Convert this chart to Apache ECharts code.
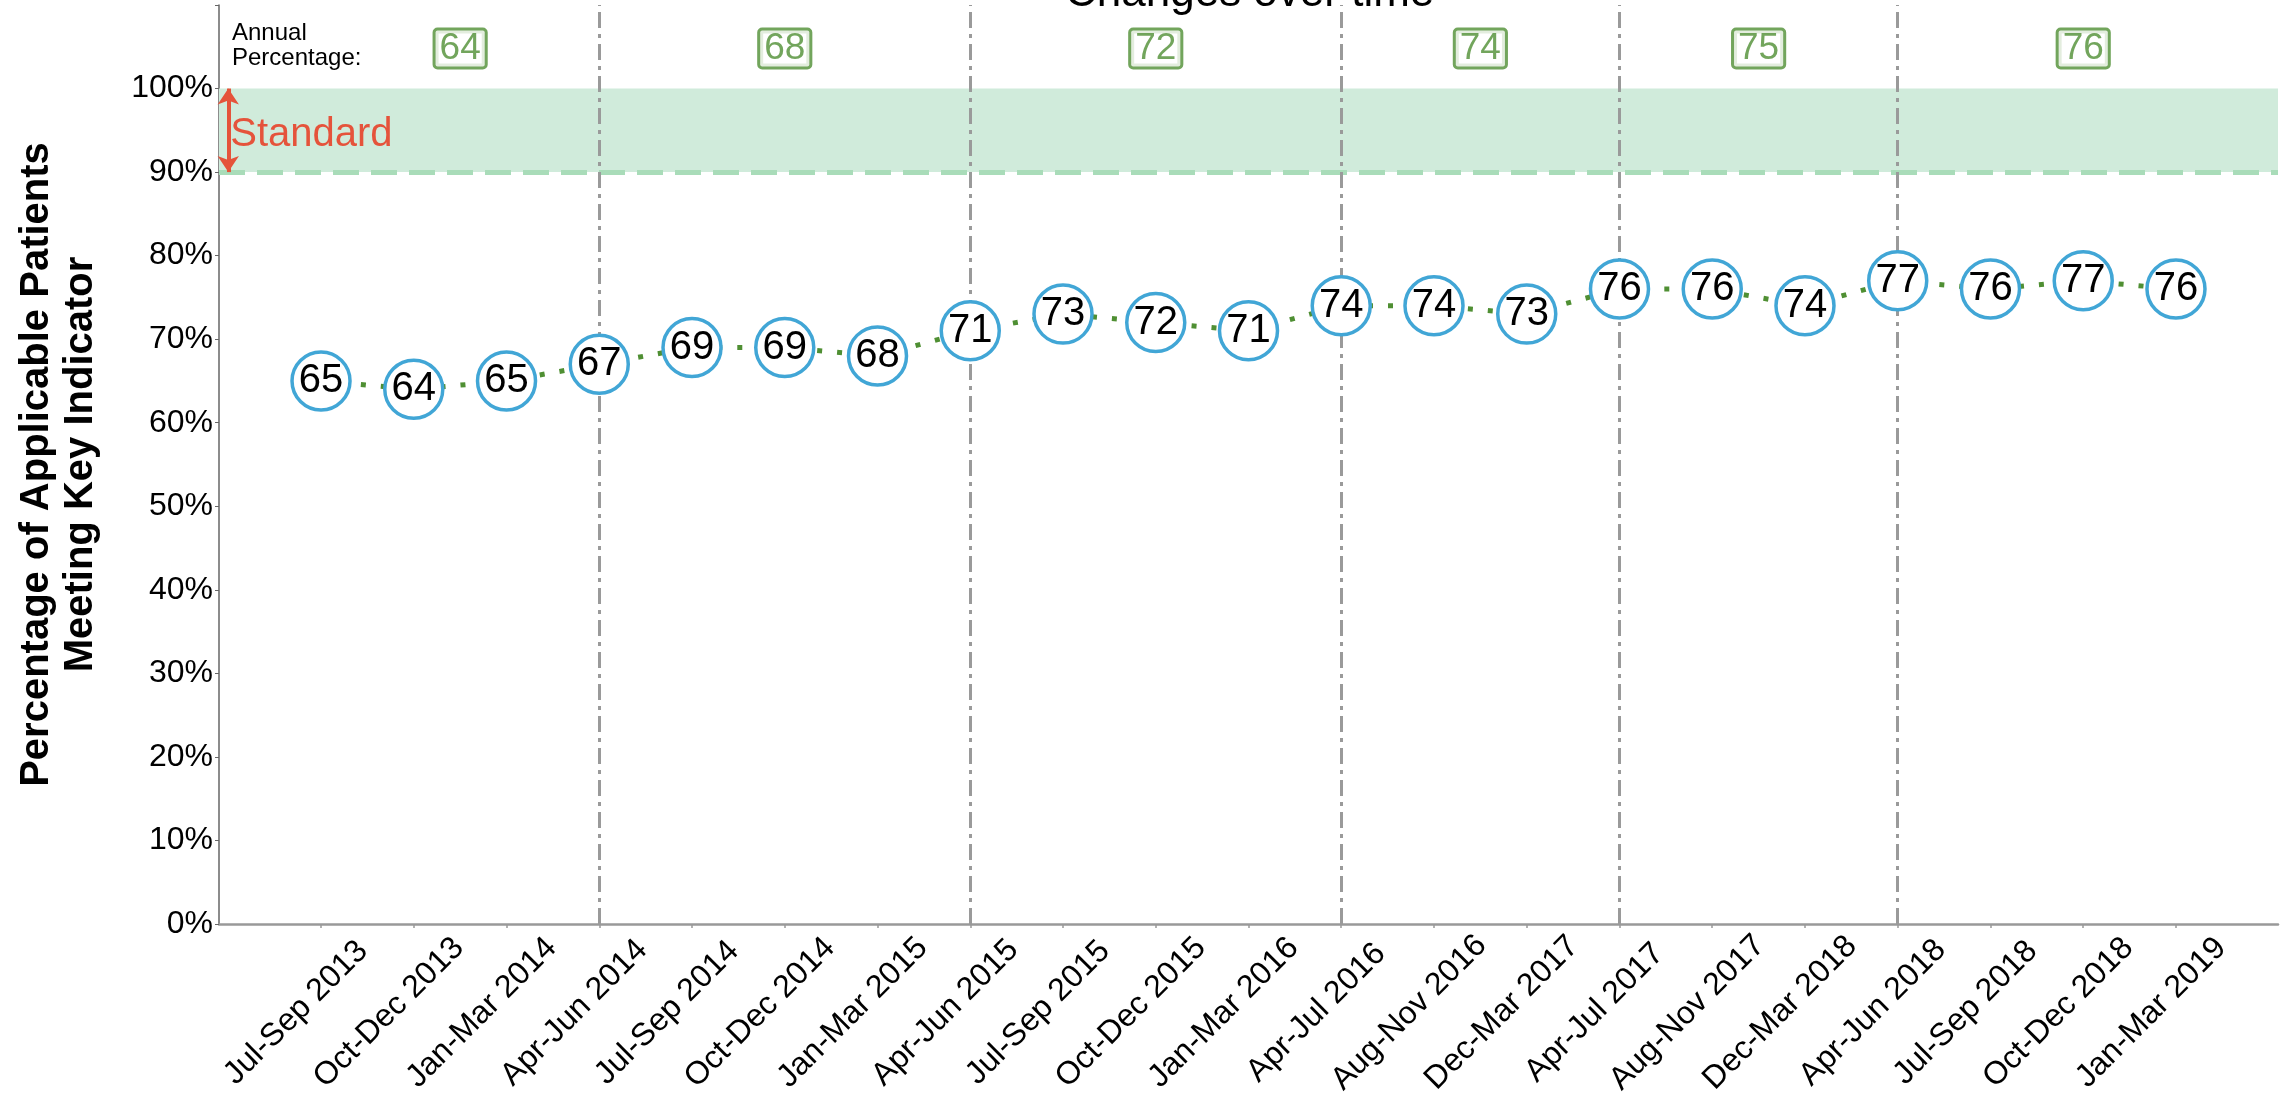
<!DOCTYPE html>
<html>
<head>
<meta charset="utf-8">
<script src="https://cdn.jsdelivr.net/npm/echarts@6/dist/echarts.min.js"></script>
<style>
html,body{margin:0;padding:0;background:#fff;}
#chart{width:2288px;height:1095px;}
</style>
</head>
<body>
<div id="chart"></div>
<script>
const categories = ['Jul-Sep 2013','Oct-Dec 2013','Jan-Mar 2014','Apr-Jun 2014','Jul-Sep 2014','Oct-Dec 2014','Jan-Mar 2015','Apr-Jun 2015','Jul-Sep 2015','Oct-Dec 2015','Jan-Mar 2016','Apr-Jul 2016','Aug-Nov 2016','Dec-Mar 2017','Apr-Jul 2017','Aug-Nov 2017','Dec-Mar 2018','Apr-Jun 2018','Jul-Sep 2018','Oct-Dec 2018','Jan-Mar 2019'];
const values = [65,64,65,67,69,69,68,71,73,72,71,74,74,73,76,76,74,77,76,77,76];
const dividers = ['Apr-Jun 2014','Apr-Jun 2015','Apr-Jul 2016','Apr-Jul 2017','Apr-Jun 2018'];
const annualValues = [64,68,72,74,75,76];
const yTicks = [0,10,20,30,40,50,60,70,80,90,100];
const standardRange = [90,100];

const FONT = 'Liberation Sans, Arial, sans-serif';
const GREEN = '#4f8f33';
const divIdx = dividers.map(d => categories.indexOf(d));
const bounds = [0].concat(divIdx, [categories.length]);
const annualData = annualValues.map((v, i) => [(bounds[i] + bounds[i + 1]) / 2, 104.8, v]);
const idxs = categories.map((c, i) => i);

const chart = echarts.init(document.getElementById('chart'));
chart.setOption({
  animation: false,
  backgroundColor: '#fff',
  title: {
    text: 'Changes over time',
    left: 1065, top: -28, padding: 0,
    textStyle: {fontFamily: FONT, fontSize: 44, fontWeight: 'normal', color: '#000'}
  },
  grid: {left: 219, right: 10, top: 5, bottom: 171, outerBoundsMode: 'none', containLabel: false},
  xAxis: {
    type: 'value', min: -1.1, max: 21.1,
    axisLine: {show: true, onZero: false, lineStyle: {color: '#999', width: 2.5}},
    axisTick: {show: true, length: 4, lineStyle: {color: '#999', width: 1.5}, customValues: idxs},
    axisLabel: {
      customValues: idxs,
      formatter: v => categories[Math.round(v)] || '',
      rotate: 45, align: 'center', verticalAlign: 'middle', margin: 64,
      padding: [0, 70, 0, 0],
      fontFamily: FONT, fontSize: 32, color: '#000', hideOverlap: false
    },
    splitLine: {show: false}
  },
  yAxis: {
    type: 'value', min: 0, max: 110, interval: 10,
    name: 'Percentage of Applicable Patients\nMeeting Key Indicator',
    nameLocation: 'middle', nameRotate: 90, nameGap: 116,
    nameTextStyle: {fontFamily: FONT, fontSize: 40, fontWeight: 'bold', color: '#000', lineHeight: 44, align: 'center'},
    axisLine: {show: true, onZero: false, lineStyle: {color: '#666', width: 1.5}},
    axisTick: {show: true, length: 4, lineStyle: {color: '#666'}},
    axisLabel: {
      formatter: v => yTicks.indexOf(v) >= 0 ? v + '%' : '',
      fontFamily: FONT, fontSize: 32, color: '#000', margin: 6
    },
    splitLine: {show: false}
  },
  graphic: [{
    type: 'text', left: 232, top: 21, z: 10,
    style: {text: 'Annual\nPercentage:', font: '24px ' + FONT, fill: '#000', lineHeight: 25}
  }],
  series: [
    {
      name: 'ref', type: 'line', data: [], silent: true,
      markArea: {
        silent: true,
        itemStyle: {color: '#d0ebdb'},
        data: [[{yAxis: standardRange[0]}, {yAxis: standardRange[1]}]]
      },
      markLine: {
        silent: true, symbol: 'none',
        label: {show: false},
        data: [
          {yAxis: standardRange[0], lineStyle: {color: '#a9dcb9', width: 5, type: [26, 12]}}
        ].concat(divIdx.map(i => ({xAxis: i, lineStyle: {color: '#9a9a9a', width: 3, type: [16, 6, 4, 6]}})))
      }
    },
    {
      name: 'standard', type: 'line', data: [], silent: true, z: 5,
      markLine: {
        silent: true,
        symbol: ['arrow', 'arrow'], symbolSize: [16, 16],
        label: {show: false},
        lineStyle: {color: '#e5533b', width: 4, type: 'solid'},
        data: [[{coord: [-1, standardRange[1]]}, {coord: [-1, standardRange[0]]}]]
      },
      markPoint: {
        silent: true, symbol: 'circle', symbolSize: 0,
        label: {show: true, position: 'right', distance: 2, offset: [0, 5], formatter: 'Standard', fontFamily: FONT, fontSize: 40, color: '#e5533b'},
        data: [{coord: [-1, (standardRange[0] + standardRange[1]) / 2]}]
      }
    },
    {
      name: 'annual', type: 'scatter', data: annualData, symbolSize: 0, silent: true,
      label: {
        show: true, position: 'inside',
        formatter: p => String(p.value[2]),
        fontFamily: FONT, fontSize: 37, lineHeight: 35, color: GREEN,
        borderColor: GREEN, borderWidth: 3, borderRadius: 2, padding: [1, 4, 0, 4],
        backgroundColor: '#fff'
      }
    },
    {
      name: 'value', type: 'line', z: 10,
      data: values.map((v, i) => [i, v]),
      symbol: 'circle', symbolSize: 58,
      itemStyle: {color: '#fff', borderColor: '#41a6d6', borderWidth: 3.5},
      lineStyle: {color: GREEN, width: 5, type: [5, 15]},
      label: {show: true, position: 'inside', fontFamily: FONT, fontSize: 40, color: '#000', formatter: p => String(p.value[1])}
    }
  ]
});
</script>
</body>
</html>
